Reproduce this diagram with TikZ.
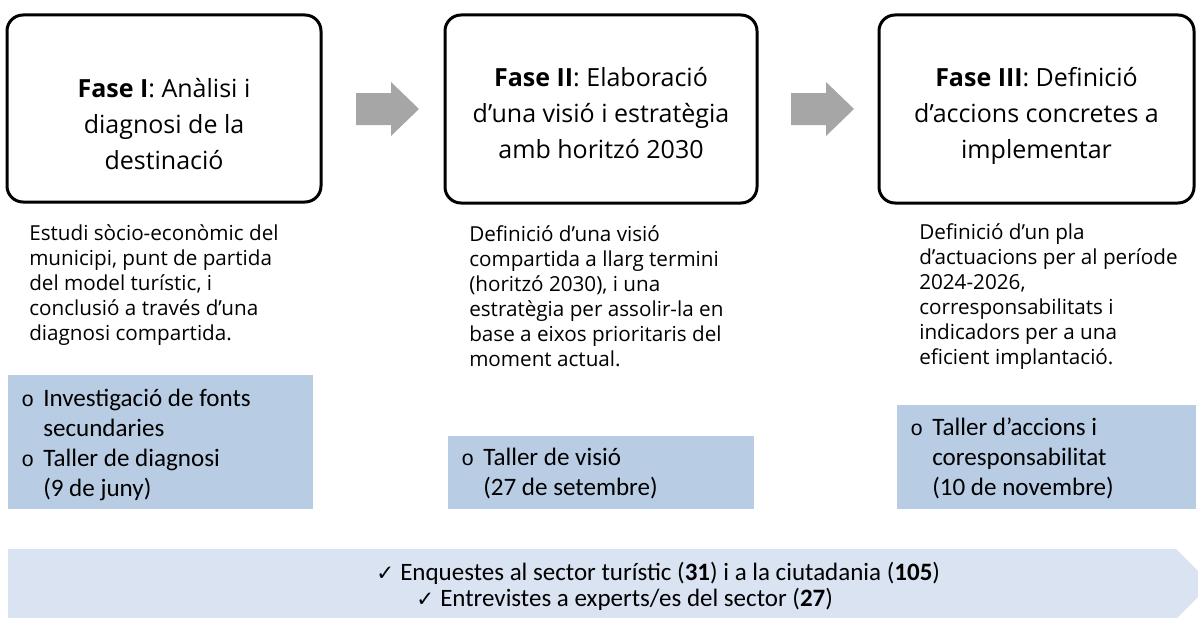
\documentclass[tikz,border=0pt]{standalone}
\usepackage{fontspec}
\setmainfont{Open Sans}
\newfontfamily\aptos{Open Sans}
\newfontfamily\calib{Carlito}
\newfontfamily\bulletfont{Liberation Mono}
\newfontfamily\symfont{DejaVu Sans}
\definecolor{boxblue}{RGB}{184,204,228}
\definecolor{bannerblue}{RGB}{218,227,241}
\definecolor{arrowgray}{RGB}{166,166,166}
\tikzset{
  phasebox/.style={draw=black, line width=2.25pt, rounded corners=12pt, fill=white},
  phasetitle/.style={align=center, anchor=base, inner sep=0pt, font=\aptos\fontsize{18.75pt}{27pt}\selectfont},
  phasedesc/.style={align=left, anchor=base west, inner sep=0pt, font=\aptos\fontsize{15.5pt}{18.75pt}\selectfont},
  actbox/.style={fill=boxblue, draw=none, inner sep=0pt},
  acttext/.style={align=left, anchor=base west, inner sep=0pt, font=\calib\fontsize{18.8pt}{22.5pt}\selectfont},
  blockarrow/.style={fill=arrowgray, draw=none},
  bannertext/.style={anchor=base west, inner sep=0pt, font=\calib\fontsize{18.75pt}{20pt}\selectfont}
}
\newcommand{\bul}{\makebox[16.5pt][l]{\bulletfont\fontsize{16pt}{16pt}\selectfont o}}
\newcommand{\ind}{\hspace*{16.5pt}}
\newcommand{\chk}{\makebox[18pt][l]{\symfont\fontsize{16pt}{16pt}\selectfont ✓}}
\begin{document}
\begin{tikzpicture}[x=0.75pt,y=-0.75pt]
\useasboundingbox (0,0) rectangle (1198,617);
% banner
\fill[bannerblue] (8,549) -- (1176,549) -- (1211,584) -- (1176,619) -- (8,619) -- cycle;
\node[bannertext] (t1) at (376,580) {\chk Enquestes al sector turístic (\textbf{31}) i a la ciutadania (\textbf{105})};
\node[bannertext] (t2) at (416,606) {\chk Entrevistes a experts/es del sector (\textbf{27})};

% phase boxes
\node[phasebox, minimum width=235.5pt, minimum height=140.25pt] (p1) at (164,108.5) {};
\node[phasebox, minimum width=234pt, minimum height=141pt] (p2) at (601,109) {};
\node[phasebox, minimum width=236.25pt, minimum height=141pt] (p3) at (1036.5,109) {};

\node[phasetitle] (h1) at (164,169) {\textbf{Fase I}: Anàlisi i\\diagnosi de la\\destinació};
\node[phasetitle] (h2) at (601,158) {\textbf{Fase II}: Elaboració\\d’una visió i estratègia\\amb horitzó 2030};
\node[phasetitle] (h3) at (1036.5,158) {\textbf{Fase III}: Definició\\d’accions concretes a\\implementar};

% arrows
\coordinate (a1) at (356,109);
\coordinate (a2) at (791,109);
\foreach \a in {a1,a2}{
  \fill[blockarrow] ([yshift=12pt]\a) -- ++(26.25pt,0) -- ++(0,8.25pt) -- ++(21pt,-20.25pt) -- ++(-21pt,-20.25pt) -- ++(0,8.25pt) -- ++(-26.25pt,0) -- cycle;
}

% descriptions
\node[phasedesc] (d1) at (29,340.7) {Estudi sòcio-econòmic del\\municipi, punt de partida\\del model turístic, i\\conclusió a través d’una\\diagnosi compartida.};
\node[phasedesc] (d2) at (469,366) {Definició d’una visió\\compartida a llarg termini\\(horitzó 2030), i una\\estratègia per assolir-la en\\base a eixos prioritaris del\\moment actual.};
\node[phasedesc] (d3) at (919,364) {Definició d’un pla\\d’actuacions per al període\\2024-2026,\\corresponsabilitats i\\indicadors per a una\\eficient implantació.};

% activity boxes
\node[actbox, minimum width=228.75pt, minimum height=100.5pt] (c1) at (160.5,442) {};
\node[actbox, minimum width=229.5pt, minimum height=54.75pt] (c2) at (601,472.5) {};
\node[actbox, minimum width=224.25pt, minimum height=78pt] (c3) at (1046.5,457) {};

\node[acttext] (e1) at (21,496) {\bul Investigació de fonts\\\ind secundaries\\\bul Taller de diagnosi\\\ind (9 de juny)};
\node[acttext] (e2) at (461,495) {\bul Taller de visió\\\ind (27 de setembre)};
\node[acttext] (e3) at (910,495) {\bul Taller d’accions i\\\ind coresponsabilitat\\\ind (10 de novembre)};
\end{tikzpicture}
\end{document}
